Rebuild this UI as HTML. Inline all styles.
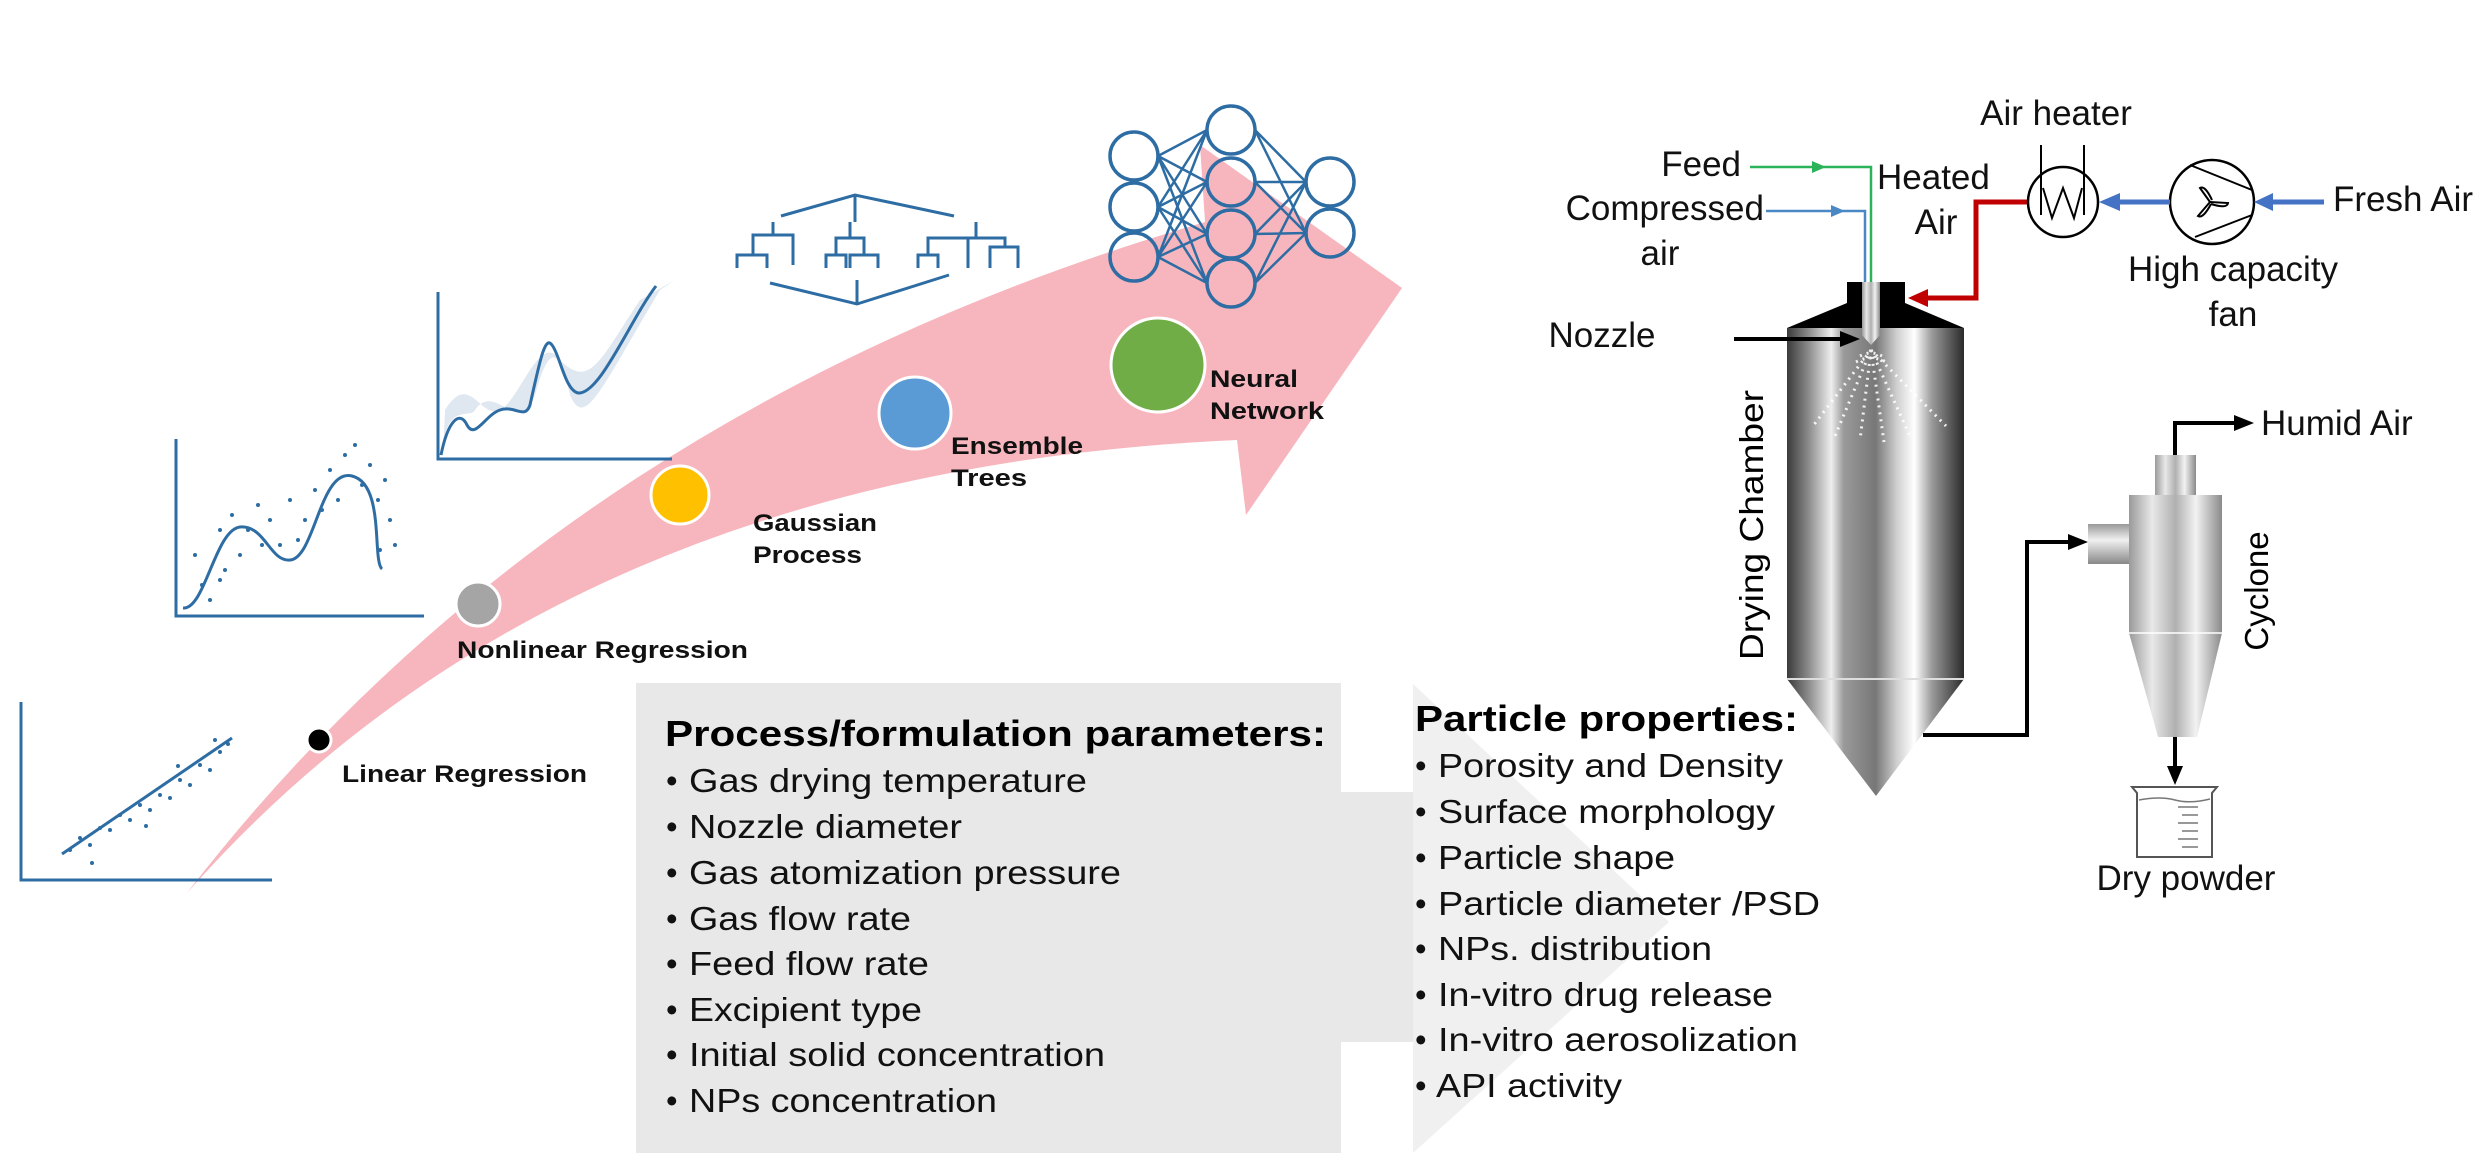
<!DOCTYPE html>
<html><head><meta charset="utf-8"><style>
html,body{margin:0;padding:0;background:#fff;}
svg{display:block;}
text{font-family:"Liberation Sans",Arial,sans-serif;}
</style></head><body>
<svg width="2483" height="1167" viewBox="0 0 2483 1167" xmlns="http://www.w3.org/2000/svg">
<defs>
<linearGradient id="met" x1="0" x2="1" y1="0" y2="0">
<stop offset="0" stop-color="#3a3a3a"/><stop offset="0.12" stop-color="#8a8a8a"/>
<stop offset="0.25" stop-color="#eeeeee"/><stop offset="0.32" stop-color="#9a9a9a"/>
<stop offset="0.5" stop-color="#777"/><stop offset="0.62" stop-color="#cfcfcf"/>
<stop offset="0.72" stop-color="#ffffff"/><stop offset="0.82" stop-color="#999"/>
<stop offset="1" stop-color="#2a2a2a"/></linearGradient>
<linearGradient id="met2" x1="0" x2="1" y1="0" y2="0">
<stop offset="0" stop-color="#9a9a9a"/><stop offset="0.25" stop-color="#e8e8e8"/>
<stop offset="0.5" stop-color="#b0b0b0"/><stop offset="0.72" stop-color="#f2f2f2"/>
<stop offset="1" stop-color="#8a8a8a"/></linearGradient>
<linearGradient id="met3" x1="0" x2="0" y1="0" y2="1">
<stop offset="0" stop-color="#999"/><stop offset="0.4" stop-color="#f0f0f0"/>
<stop offset="1" stop-color="#888"/></linearGradient>
</defs>

<path d="M636,683 L1341,683 L1341,792 L1413,792 L1413,684 L1669,922 L1413,1153 L1413,1042 L1341,1042 L1341,1153 L636,1153 Z" fill="#f0f0f0"/>
<rect x="636" y="683" width="705" height="470" fill="#e8e8e8"/>
<rect x="1341" y="792" width="72" height="250" fill="#e8e8e8"/>

<path d="M187,893 Q560,410 1205,222 L1200,145 L1402,288 L1246,515 L1237,440 Q560,470 187,893 Z" fill="#f7b6bd"/>

<g stroke="#2e6da4" fill="none" stroke-width="3">
<path d="M21,702 L21,880 L272,880"/>
<path d="M62,854 L232,738"/>
<path d="M176,439 L176,616 L424,616"/>
<path d="M183,608 C205,610 215,530 240,527 C265,525 270,562 290,560 C315,558 320,468 352,476 C385,484 372,560 382,569"/>
<path d="M438,292 L438,459 L672,459"/>
</g>
<path d="M443,455 C445,400 470,420 475,410 C495,380 520,440 535,395 C550,340 560,350 570,395 C585,430 600,390 660,290 L675,280 L640,300 C600,360 590,390 560,360 C540,330 520,400 500,410 C480,420 470,370 445,410 Z" fill="#dfe7f0"/>
<path d="M441,455 C448,420 460,410 467,425 C475,440 485,415 500,410 C515,405 525,420 530,405 C540,360 545,335 552,345 C560,355 565,390 578,393 C600,395 630,320 656,286" fill="none" stroke="#2e6da4" stroke-width="3"/>
<g fill="#2e6da4">
<circle cx="70" cy="850" r="2"/><circle cx="80" cy="838" r="2"/><circle cx="90" cy="845" r="2"/><circle cx="100" cy="828" r="2"/><circle cx="110" cy="830" r="2"/><circle cx="120" cy="815" r="2"/><circle cx="130" cy="820" r="2"/><circle cx="140" cy="805" r="2"/><circle cx="150" cy="810" r="2"/><circle cx="160" cy="795" r="2"/><circle cx="170" cy="798" r="2"/><circle cx="180" cy="780" r="2"/><circle cx="190" cy="785" r="2"/><circle cx="200" cy="765" r="2"/><circle cx="210" cy="770" r="2"/><circle cx="220" cy="752" r="2"/><circle cx="228" cy="744" r="2"/><circle cx="92" cy="863" r="2"/><circle cx="146" cy="826" r="2"/><circle cx="215" cy="740" r="2"/><circle cx="178" cy="766" r="2"/>
<circle cx="195" cy="555" r="2"/><circle cx="202" cy="585" r="2"/><circle cx="210" cy="600" r="2"/><circle cx="220" cy="530" r="2"/><circle cx="225" cy="570" r="2"/><circle cx="232" cy="515" r="2"/><circle cx="240" cy="555" r="2"/><circle cx="248" cy="530" r="2"/><circle cx="258" cy="505" r="2"/><circle cx="262" cy="545" r="2"/><circle cx="270" cy="520" r="2"/><circle cx="280" cy="545" r="2"/><circle cx="290" cy="500" r="2"/><circle cx="298" cy="540" r="2"/><circle cx="305" cy="520" r="2"/><circle cx="315" cy="490" r="2"/><circle cx="322" cy="510" r="2"/><circle cx="330" cy="470" r="2"/><circle cx="338" cy="500" r="2"/><circle cx="345" cy="455" r="2"/><circle cx="355" cy="445" r="2"/><circle cx="362" cy="485" r="2"/><circle cx="370" cy="465" r="2"/><circle cx="378" cy="500" r="2"/><circle cx="385" cy="480" r="2"/><circle cx="390" cy="520" r="2"/><circle cx="395" cy="545" r="2"/><circle cx="380" cy="550" r="2"/><circle cx="220" cy="580" r="2"/>
</g>

<g stroke="#2e6da4" fill="none" stroke-width="3">
<path d="M781,216 L855,195 L954,216 M855,195 L855,222"/>
<path d="M770,283 L857,304 L949,275 M857,280 L857,304"/>
<path d="M737,268 L737,255 L767,255 L767,268 M753,255 L753,235 L793,235 L793,265 M773,235 L773,222"/>
<path d="M826,268 L826,255 L846,255 L846,268 M850,268 L850,255 L878,255 L878,268 M836,255 L836,238 L864,238 L864,255 M850,238 L850,222"/>
<path d="M918,268 L918,255 L938,255 L938,268 M928,255 L928,238 L976,238 L976,222 M968,238 L968,268 M990,268 L990,247 L1018,247 L1018,268 M976,238 L1005,238 L1005,247"/>
</g>

<g stroke="#2e6da4" stroke-width="2.5" fill="none">
<path d="M1158,156 L1207,130 M1158,156 L1207,182 M1158,156 L1207,234 M1158,156 L1207,283 M1158,207 L1207,130 M1158,207 L1207,182 M1158,207 L1207,234 M1158,207 L1207,283 M1158,257 L1207,130 M1158,257 L1207,182 M1158,257 L1207,234 M1158,257 L1207,283 M1255,130 L1306,182 M1255,130 L1306,233 M1255,182 L1306,182 M1255,182 L1306,233 M1255,234 L1306,182 M1255,234 L1306,233 M1255,283 L1306,182 M1255,283 L1306,233"/>
</g>
<g stroke="#2e6da4" stroke-width="3.5" fill="none">
<circle cx="1134" cy="156" r="24"/><circle cx="1134" cy="207" r="24"/><circle cx="1134" cy="257" r="24"/>
<circle cx="1231" cy="130" r="24"/><circle cx="1231" cy="182" r="24"/><circle cx="1231" cy="234" r="24"/><circle cx="1231" cy="283" r="24"/>
<circle cx="1330" cy="182" r="24"/><circle cx="1330" cy="233" r="24"/>
</g>

<circle cx="319" cy="740" r="12" fill="#000" stroke="#fff" stroke-width="3"/>
<circle cx="478" cy="604" r="22" fill="#a5a5a5" stroke="#fff" stroke-width="3"/>
<circle cx="680" cy="495" r="29" fill="#ffc000" stroke="#fff" stroke-width="3"/>
<circle cx="915" cy="413" r="36" fill="#5b9bd5" stroke="#fff" stroke-width="3"/>
<circle cx="1158" cy="365" r="47" fill="#70ad47" stroke="#fff" stroke-width="3"/>

<g font-weight="bold" font-size="24" fill="#111">
<text x="342" y="782" textLength="245" lengthAdjust="spacingAndGlyphs">Linear Regression</text>
<text x="457" y="658" textLength="291" lengthAdjust="spacingAndGlyphs">Nonlinear Regression</text>
<text x="753" y="531" textLength="124" lengthAdjust="spacingAndGlyphs">Gaussian</text>
<text x="753" y="563" textLength="109" lengthAdjust="spacingAndGlyphs">Process</text>
<text x="951" y="454" textLength="132" lengthAdjust="spacingAndGlyphs">Ensemble</text>
<text x="951" y="486" textLength="76" lengthAdjust="spacingAndGlyphs">Trees</text>
<text x="1210" y="387" textLength="88" lengthAdjust="spacingAndGlyphs">Neural</text>
<text x="1210" y="419" textLength="114" lengthAdjust="spacingAndGlyphs">Network</text>
</g>

<text x="665" y="746" font-size="36" font-weight="bold" textLength="661" lengthAdjust="spacingAndGlyphs">Process/formulation parameters:</text>
<g font-size="33" fill="#111">
<text x="666" y="792">•</text><text x="689" y="792" textLength="398" lengthAdjust="spacingAndGlyphs">Gas drying temperature</text>
<text x="666" y="838">•</text><text x="689" y="838" textLength="273" lengthAdjust="spacingAndGlyphs">Nozzle diameter</text>
<text x="666" y="884">•</text><text x="689" y="884" textLength="432" lengthAdjust="spacingAndGlyphs">Gas atomization pressure</text>
<text x="666" y="930">•</text><text x="689" y="930" textLength="222" lengthAdjust="spacingAndGlyphs">Gas flow rate</text>
<text x="666" y="975">•</text><text x="689" y="975" textLength="240" lengthAdjust="spacingAndGlyphs">Feed flow rate</text>
<text x="666" y="1021">•</text><text x="689" y="1021" textLength="233" lengthAdjust="spacingAndGlyphs">Excipient type</text>
<text x="666" y="1066">•</text><text x="689" y="1066" textLength="416" lengthAdjust="spacingAndGlyphs">Initial solid concentration</text>
<text x="666" y="1112">•</text><text x="689" y="1112" textLength="308" lengthAdjust="spacingAndGlyphs">NPs concentration</text>
</g>

<text x="1415" y="731" font-size="36" font-weight="bold" textLength="383" lengthAdjust="spacingAndGlyphs">Particle properties:</text>
<g font-size="33" fill="#111">
<text x="1415" y="777">•</text><text x="1438" y="777" textLength="345" lengthAdjust="spacingAndGlyphs">Porosity and Density</text>
<text x="1415" y="823">•</text><text x="1438" y="823" textLength="337" lengthAdjust="spacingAndGlyphs">Surface morphology</text>
<text x="1415" y="869">•</text><text x="1438" y="869" textLength="237" lengthAdjust="spacingAndGlyphs">Particle shape</text>
<text x="1415" y="915">•</text><text x="1438" y="915" textLength="382" lengthAdjust="spacingAndGlyphs">Particle diameter /PSD</text>
<text x="1415" y="960">•</text><text x="1438" y="960" textLength="274" lengthAdjust="spacingAndGlyphs">NPs. distribution</text>
<text x="1415" y="1006">•</text><text x="1438" y="1006" textLength="335" lengthAdjust="spacingAndGlyphs">In-vitro drug release</text>
<text x="1415" y="1051">•</text><text x="1438" y="1051" textLength="360" lengthAdjust="spacingAndGlyphs">In-vitro aerosolization</text>
<text x="1415" y="1097">•</text><text x="1436" y="1097" textLength="186" lengthAdjust="spacingAndGlyphs">API activity</text>
</g>

<path d="M1787,328 L1847,303 L1847,282 L1905,282 L1905,303 L1964,328 Z" fill="#000"/>
<rect x="1787" y="328" width="177" height="351" fill="url(#met)"/>
<path d="M1787,679 L1964,679 L1876,796 Z" fill="url(#met)"/>
<line x1="1787" y1="679" x2="1964" y2="679" stroke="#ddd" stroke-width="2"/>
<path d="M1862,282 L1880,282 L1880,335 L1871,345 L1862,335 Z" fill="url(#met2)"/>
<g stroke="#fff" stroke-width="3" stroke-dasharray="2 5" fill="none" opacity="0.9">
<path d="M1871,350 L1813,426"/><path d="M1871,350 L1835,436"/><path d="M1871,350 L1860,440"/><path d="M1871,350 L1884,442"/><path d="M1871,350 L1910,436"/><path d="M1871,350 L1946,426"/>
<path d="M1860,356 Q1871,350 1882,356"/><path d="M1856,362 Q1871,354 1886,362"/>
</g>
<text transform="translate(1763,525) rotate(-90)" text-anchor="middle" font-size="33" textLength="270" lengthAdjust="spacingAndGlyphs">Drying Chamber</text>

<path d="M1750,167 L1871,167 L1871,282" stroke="#2bb35a" stroke-width="2.5" fill="none"/>
<path d="M1812,161 L1826,167 L1812,173 Z" fill="#2bb35a"/>
<path d="M1766,211 L1865,211 L1865,282" stroke="#4a87c5" stroke-width="2.5" fill="none"/>
<path d="M1831,205 L1845,211 L1831,217 Z" fill="#4a87c5"/>
<g font-size="35" fill="#111">
<text x="1741" y="176" text-anchor="end">Feed</text>
<text x="1764" y="220" text-anchor="end">Compressed</text>
<text x="1660" y="265" text-anchor="middle">air</text>
<text x="1877" y="189">Heated</text>
<text x="1936" y="234" text-anchor="middle">Air</text>
<text x="1602" y="347" text-anchor="middle">Nozzle</text>
<text x="2056" y="125" text-anchor="middle">Air heater</text>
<text x="2333" y="211">Fresh Air</text>
<text x="2233" y="281" text-anchor="middle">High capacity</text>
<text x="2233" y="326" text-anchor="middle">fan</text>
<text x="2261" y="435">Humid Air</text>
<text x="2186" y="890" text-anchor="middle">Dry powder</text>
</g>
<line x1="1734" y1="339" x2="1845" y2="339" stroke="#000" stroke-width="4"/>
<path d="M1840,331 L1860,339 L1840,347 Z" fill="#000"/>

<path d="M2028,202 L1976,202 L1976,298 L1925,298" stroke="#c00000" stroke-width="5" fill="none"/>
<path d="M1928,289 L1908,298 L1928,307 Z" fill="#c00000"/>

<circle cx="2063" cy="202" r="35" fill="#fff" stroke="#000" stroke-width="2.5"/>
<path d="M2041,145 L2041,215 M2084,145 L2084,215 M2043,188 L2052,218 L2063,188 L2074,218 L2082,188" stroke="#000" stroke-width="2" fill="none"/>
<circle cx="2212" cy="202" r="42" fill="#fff" stroke="#000" stroke-width="2.5"/>
<path d="M2190,165 L2252,190 M2195,237 L2252,215" stroke="#000" stroke-width="2" fill="none"/>
<g stroke="#000" stroke-width="2" fill="none">
<path d="M2210,202 L2200,188 Q2205,185 2212,200"/>
<path d="M2210,202 L2228,203 Q2227,209 2211,204"/>
<path d="M2210,202 L2198,216 Q2203,219 2211,204"/>
</g>
<line x1="2170" y1="202" x2="2116" y2="202" stroke="#4472c4" stroke-width="5"/>
<path d="M2120,193 L2099,202 L2120,211 Z" fill="#4472c4"/>
<line x1="2324" y1="202" x2="2270" y2="202" stroke="#4472c4" stroke-width="5"/>
<path d="M2273,193 L2254,202 L2273,211 Z" fill="#4472c4"/>

<rect x="2155" y="455" width="41" height="40" fill="url(#met2)"/>
<rect x="2129" y="495" width="93" height="138" fill="url(#met2)"/>
<path d="M2129,633 L2222,633 L2197,737 L2158,737 Z" fill="url(#met2)"/>
<line x1="2129" y1="633" x2="2222" y2="633" stroke="#fff" stroke-width="1.5"/>
<rect x="2088" y="524" width="41" height="40" fill="url(#met3)"/>
<text transform="translate(2268,591) rotate(-90)" text-anchor="middle" font-size="33">Cyclone</text>

<path d="M1923,735 L2027,735 L2027,542 L2070,542" stroke="#000" stroke-width="4" fill="none"/>
<path d="M2068,534 L2088,542 L2068,550 Z" fill="#000"/>
<path d="M2175,455 L2175,423 L2236,423" stroke="#000" stroke-width="4" fill="none"/>
<path d="M2234,415 L2254,423 L2234,431 Z" fill="#000"/>
<line x1="2175" y1="737" x2="2175" y2="768" stroke="#000" stroke-width="4"/>
<path d="M2167,766 L2175,785 L2183,766 Z" fill="#000"/>

<path d="M2132,787 L2217,787 L2212,793 L2212,857 L2137,857 L2137,793 Z" fill="#fff" stroke="#555" stroke-width="2"/>
<path d="M2139,800 Q2160,796 2175,800 T2210,799" stroke="#777" stroke-width="1.5" fill="none"/>
<g stroke="#777" stroke-width="1.5"><line x1="2178" y1="807" x2="2198" y2="807"/><line x1="2182" y1="815" x2="2198" y2="815"/><line x1="2178" y1="823" x2="2198" y2="823"/><line x1="2182" y1="831" x2="2198" y2="831"/><line x1="2178" y1="839" x2="2198" y2="839"/><line x1="2182" y1="847" x2="2198" y2="847"/></g>
</svg>
</body></html>
